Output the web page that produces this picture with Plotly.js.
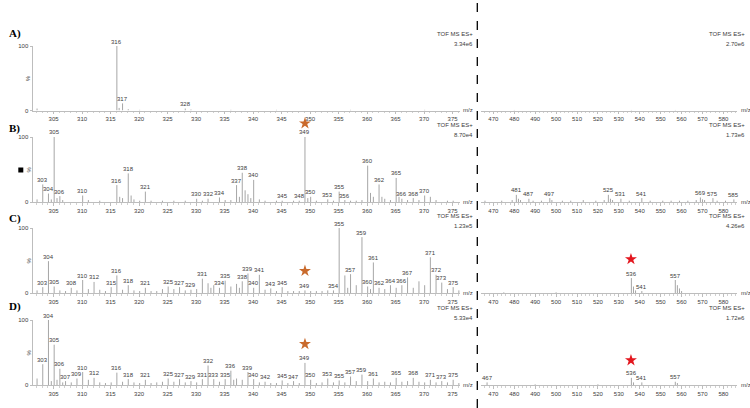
<!DOCTYPE html>
<html><head><meta charset="utf-8">
<script src="https://cdn.plot.ly/plotly-3.0.1.min.js"></script>
<style>html,body{margin:0;padding:0;background:#fff}#chart{width:750px;height:408px}</style>
</head><body><div id="chart"></div>
<script>
// ---------- DATA ----------
const panelNames = ['A)', 'B)', 'C)', 'D)'];
const leftScale = ['3.34e6', '8.70e4', '1.23e5', '5.33e4'];
const rightScale = ['2.70e6', '1.73e6', '4.26e6', '1.72e6'];
const instrument = 'TOF MS ES+';

// Panel A, m/z 301-377 (labelled peaks, relative intensity %)
const aLeftMz = [316.1, 317.1, 328.1];
const aLeftInt = [100, 11, 3];
const aLeftMinorMz = [302.1, 316.5, 318.1, 320.1, 329.1, 336.1, 344.1, 357.1, 370.1];
const aLeftMinorInt = [3, 4, 2, 1, 1.5, 1, 1, 1, 1];
// Panel A, m/z 464-587
const aRightMz = [];
const aRightInt = [];
const aRightMinorMz = [480, 536, 557];
const aRightMinorInt = [0.8, 0.8, 0.8];

// Panel B
const bLeftMz = [303.1, 304.1, 305.1, 306.1, 310.1, 316.1, 318.1, 321.1, 330.1, 332.1, 334.1, 337.1, 338.1, 340.1, 345.1, 348.1, 349.1, 350.1, 353.1, 355.1, 356.1, 360.1, 362.1, 365.1, 366.1, 368.1, 370.1];
const bLeftInt = [27, 13, 100, 9, 10, 26, 44, 16, 5, 5, 7, 26, 45, 34, 2, 2, 100, 8, 4, 16, 3, 56, 27, 37, 5, 6, 10];
const bLeftMinorMz = [302.1, 304.6, 305.6, 306.6, 311.1, 313.1, 316.6, 317.1, 318.6, 319.1, 320.1, 322.1, 324.1, 326.1, 328.1, 331.1, 335.1, 336.1, 337.6, 338.6, 339.1, 339.6, 341.1, 342.1, 344.1, 347.1, 349.6, 351.1, 354.1, 357.1, 358.1, 359.1, 360.6, 361.1, 362.6, 363.1, 364.1, 365.6, 367.1, 369.1, 371.1, 372.1, 374.1, 375.1];
const bLeftMinorInt = [4, 4, 6, 3, 3, 2, 8, 6, 10, 4, 2, 2, 2, 2, 2, 2, 3, 3, 8, 18, 12, 6, 4, 2, 2, 2, 6, 2, 2, 2, 2, 3, 14, 8, 8, 5, 3, 8, 3, 3, 8, 3, 2, 2];
const bRightMz = [481, 487, 497, 525, 531, 541, 569, 575, 585];
const bRightInt = [11, 5, 6, 11, 5, 6, 7, 6, 4];
const bRightMinorMz = [466, 474, 479, 482, 483, 489, 493, 498, 503, 507, 513, 519, 523, 526, 527, 535, 545, 551, 555, 559, 563, 567, 570, 571, 577, 581];
const bRightMinorInt = [2, 2, 3, 5, 3, 2, 2, 3, 2, 2, 3, 2, 3, 5, 3, 2, 2, 2, 2, 2, 2, 3, 4, 3, 2, 2];

// Panel C
const cLeftMz = [303.1, 304.1, 305.1, 308.1, 310.1, 312.1, 315.1, 316.1, 318.1, 321.1, 325.1, 327.1, 329.1, 331.1, 334.1, 335.1, 338.1, 339.1, 340.1, 341.1, 343.1, 345.1, 349.1, 354.1, 355.1, 357.1, 359.1, 360.1, 361.1, 362.1, 364.1, 366.1, 367.1, 371.1, 372.1, 373.1, 375.1];
const cLeftInt = [9, 49, 10, 8, 20, 17, 9, 27, 12, 8, 10, 9, 5, 22, 8, 19, 18, 30, 8, 28, 7, 9, 4, 4, 100, 29, 86, 10, 47, 8, 12, 12, 24, 55, 28, 16, 9];
const cLeftMinorMz = [302.1, 306.1, 307.1, 309.1, 311.1, 313.1, 314.1, 317.1, 319.1, 320.1, 322.1, 323.1, 324.1, 326.1, 328.1, 330.1, 332.1, 332.6, 333.1, 336.1, 337.1, 337.6, 342.1, 344.1, 346.1, 347.1, 348.1, 350.1, 351.1, 352.1, 353.1, 356.1, 356.6, 358.1, 360.6, 363.1, 365.1, 368.1, 369.1, 370.1, 374.1, 376.1];
const cLeftMinorInt = [4, 4, 3, 4, 6, 5, 3, 5, 4, 3, 3, 3, 6, 6, 4, 6, 15, 8, 12, 10, 14, 8, 5, 3, 3, 3, 3, 3, 3, 3, 4, 27, 8, 12, 6, 6, 8, 8, 18, 12, 6, 4];
const cRightMz = [536, 541, 557];
const cRightInt = [23, 3, 20];
const cRightMinorMz = [475, 500, 537, 538, 558, 559, 560];
const cRightMinorInt = [1, 1, 10, 4, 12, 7, 3];

// Panel D
const dLeftMz = [303.1, 304.1, 305.1, 306.1, 307.1, 309.1, 310.1, 312.1, 316.1, 318.1, 321.1, 325.1, 327.1, 329.1, 331.1, 332.1, 333.1, 335.1, 336.1, 339.1, 340.1, 342.1, 345.1, 347.1, 349.1, 350.1, 353.1, 355.1, 357.1, 359.1, 361.1, 365.1, 368.1, 371.1, 373.1, 375.1];
const dLeftInt = [32, 100, 62, 25, 6, 10, 20, 11, 19, 9, 8, 10, 9, 6, 9, 30, 9, 9, 22, 20, 9, 5, 7, 6, 34, 8, 10, 7, 13, 16, 10, 11, 11, 8, 6, 8];
const dLeftMinorMz = [302.1, 304.6, 305.6, 306.6, 308.1, 311.1, 313.1, 314.1, 315.1, 317.1, 319.1, 320.1, 322.1, 323.1, 324.1, 326.1, 328.1, 330.1, 334.1, 336.6, 337.1, 338.1, 341.1, 343.1, 344.1, 346.1, 348.1, 351.1, 352.1, 354.1, 356.1, 358.1, 360.1, 362.1, 363.1, 364.1, 366.1, 367.1, 369.1, 370.1, 372.1, 374.1, 376.1];
const dLeftMinorInt = [10, 6, 8, 4, 4, 8, 4, 3, 4, 5, 4, 3, 3, 4, 5, 5, 4, 4, 5, 8, 10, 8, 4, 3, 3, 3, 3, 3, 4, 4, 4, 6, 6, 4, 5, 4, 5, 6, 5, 4, 4, 4, 3];
const dRightMz = [467, 536, 541, 557];
const dRightInt = [4, 11, 4, 5];
const dRightMinorMz = [490, 520, 537, 558];
const dRightMinorInt = [1, 1, 4, 3];

// Marked ions (stars): panel index, side, m/z, height (%)
const starPanel = [1, 2, 2, 3, 3];
const starSide = ['L', 'L', 'R', 'L', 'R'];
const starMz = [349.1, 349.1, 535.8, 349.1, 535.8];
const starY = [121, 34, 52, 63, 38];

// ---------- BUILD ----------
const leftSets = [[aLeftMz, aLeftInt, aLeftMinorMz, aLeftMinorInt], [bLeftMz, bLeftInt, bLeftMinorMz, bLeftMinorInt], [cLeftMz, cLeftInt, cLeftMinorMz, cLeftMinorInt], [dLeftMz, dLeftInt, dLeftMinorMz, dLeftMinorInt]];
const rightSets = [[aRightMz, aRightInt, aRightMinorMz, aRightMinorInt], [bRightMz, bRightInt, bRightMinorMz, bRightMinorInt], [cRightMz, cRightInt, cRightMinorMz, cRightMinorInt], [dRightMz, dRightInt, dRightMinorMz, dRightMinorInt]];

const W = 750, H = 408;
const px = x => x / W;
const py = y => 1 - y / H;
// pixel rows: [baseline, top]
const rows = [[110.5, 46], [202, 137], [293, 228], [385, 320]];
const labelY = [33, 128, 218, 306];
const leftDom = [px(32.5), px(460)];
const rightDom = [px(481), px(737)];
const leftRange = [301.3, 376.3];
const rightRange = [464.1, 586.5];

const stickColor = '#a6a6a6';
const textColor = '#3c3c3c';
const axisColor = '#bdbdbd';
const fontFam = 'Liberation Sans, Arial, sans-serif';

const traces = [];
const annotations = [];
const shapes = [];
const layout = {
  width: W, height: H, margin: {l: 0, r: 0, t: 0, b: 0},
  paper_bgcolor: '#fff', plot_bgcolor: 'rgba(0,0,0,0)',
  showlegend: false, font: {family: fontFam, size: 6, color: textColor}
};

function sticks(mz, it, mz2, it2) {
  const x = [], y = [];
  const all = it.concat(it2);
  mz.concat(mz2).forEach((m, i) => { x.push(m, m, null); y.push(0, all[i], null); });
  return {x, y};
}

let extraAxis = 9;
rows.forEach((r, ri) => {
  const yDom = [py(r[0]), py(r[1])];
  const hPx = r[0] - r[1];
  [['L', leftSets[ri], leftDom, leftRange, 5, 1], ['R', rightSets[ri], rightDom, rightRange, 10, 2]].forEach(([side, set, dom, rng, dt, mdt], si) => {
    const idx = ri * 2 + si + 1;
    const xid = idx === 1 ? 'x' : 'x' + idx;
    const yid = idx === 1 ? 'y' : 'y' + idx;
    const xk = idx === 1 ? 'xaxis' : 'xaxis' + idx;
    const yk = idx === 1 ? 'yaxis' : 'yaxis' + idx;
    layout[xk] = {
      domain: dom, range: rng, anchor: yid, showgrid: false, zeroline: false,
      showline: true, linecolor: axisColor, linewidth: 1,
      ticks: 'outside', ticklen: 2.5, tickcolor: axisColor, tickwidth: 1,
      tick0: 0, dtick: dt, tickfont: {size: 6, color: textColor, family: fontFam},
      minor: {dtick: mdt, ticklen: 1.5, tickcolor: '#d0d0d0', ticks: 'outside'},
      fixedrange: true
    };
    layout[yk] = {
      domain: yDom, range: [0, 100], anchor: xid, showgrid: false, zeroline: false,
      visible: side === 'L', showline: true, linecolor: axisColor, linewidth: 1,
      ticks: 'outside', ticklen: 2, tickcolor: axisColor, tickvals: [0, 100], ticktext: ['0', '100'],
      tickfont: {size: 6, color: textColor, family: fontFam}, fixedrange: true
    };
    const s = sticks(set[0], set[1], set[2], set[3]);
    traces.push({type: 'scatter', mode: 'lines', x: s.x, y: s.y, xaxis: xid, yaxis: yid,
      line: {color: stickColor, width: 1}, hoverinfo: 'skip', connectgaps: false});
    set[0].forEach((m, i) => {
      annotations.push({xref: xid, yref: yid, x: m, y: set[1][i], text: String(Math.round(m)),
        showarrow: false, yanchor: 'bottom', xanchor: 'center', borderpad: 0, yshift: 0.5,
        font: {size: 6, color: textColor, family: fontFam}});
    });
    // stars: drawn on an invisible taller y axis (same % scale) so marks above 100 % remain visible
    const sx = [], sy = [], sc = [];
    starPanel.forEach((p, k) => {
      if (p === ri && starSide[k] === side) { sx.push(starMz[k]); sy.push(starY[k]); sc.push(side === 'L' ? '#c96a2c' : '#e3161e'); }
    });
    if (sx.length) {
      const sid = 'y' + extraAxis;
      layout['yaxis' + extraAxis] = {domain: [py(r[0]), py(r[0] - hPx * 1.4)], range: [0, 140], anchor: xid,
        visible: false, showgrid: false, zeroline: false, fixedrange: true};
      extraAxis++;
      traces.push({type: 'scatter', mode: 'markers', x: sx, y: sy, xaxis: xid, yaxis: sid,
        cliponaxis: false, marker: {symbol: 'star', size: 9, color: sc, line: {width: 0}}, hoverinfo: 'skip'});
    }
    // m/z label at axis end
    annotations.push({xref: 'paper', yref: 'paper', x: dom[1] + px(1.5), y: yDom[0], text: 'm/z',
      showarrow: false, xanchor: 'left', yanchor: 'middle', font: {size: 6, color: textColor, family: fontFam}});
    // instrument + scale
    const rx = side === 'L' ? px(474.5) : px(747);
    annotations.push({xref: 'paper', yref: 'paper', x: rx, y: py(r[1] - 12), text: instrument,
      showarrow: false, xanchor: 'right', yanchor: 'middle', font: {size: 6, color: textColor, family: fontFam}});
    annotations.push({xref: 'paper', yref: 'paper', x: rx, y: py(r[1] - 2), text: side === 'L' ? leftScale[ri] : rightScale[ri],
      showarrow: false, xanchor: 'right', yanchor: 'middle', font: {size: 6, color: textColor, family: fontFam}});
  });
  // % label
  annotations.push({xref: 'paper', yref: 'paper', x: px(28), y: (py(r[0]) + py(r[1])) / 2, text: '%',
    textangle: -90, showarrow: false, xanchor: 'center', yanchor: 'middle', font: {size: 6, color: textColor, family: fontFam}});
  // panel letter
  annotations.push({xref: 'paper', yref: 'paper', x: px(7), y: py(labelY[ri]), text: '<b>' + panelNames[ri] + '</b>',
    showarrow: false, xanchor: 'left', yanchor: 'middle', font: {size: 11, color: '#000', family: 'Liberation Serif, Times New Roman, serif'}});
});

// dashed separator
shapes.push({type: 'line', xref: 'paper', yref: 'paper', x0: px(477.3), x1: px(477.3), y0: 0, y1: 1,
  line: {color: '#000', width: 1.3, dash: 'dash'}});
// small black marker in panel B
shapes.push({type: 'rect', xref: 'paper', yref: 'paper', x0: px(18.3), x1: px(23.3), y0: py(172.5), y1: py(167.5),
  line: {width: 0}, fillcolor: '#000'});

layout.annotations = annotations;
layout.shapes = shapes;

Plotly.newPlot('chart', traces, layout, {displayModeBar: false, staticPlot: true});
</script>
</body></html>
